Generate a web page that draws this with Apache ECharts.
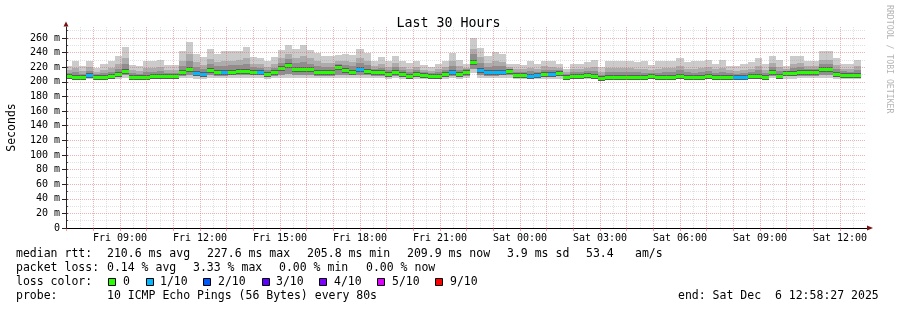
<!DOCTYPE html>
<html>
<head>
<meta charset="utf-8">
<script src="https://cdn.jsdelivr.net/npm/echarts@6/dist/echarts.min.js"></script>
<style>
  html, body { margin: 0; padding: 0; background: #fff; }
  #chart { width: 897px; height: 310px; }
</style>
</head>
<body>
<div id="chart"></div>
<script>
// 16 minute bins (12 x 80s), first bin starts Fri 06:56
const firstBin = "Fri 06:56";
const binMinutes = 16;
const viewStart = "Fri 06:58:27";
const viewEnd = "Sat 12:58:27";

const xTickLabels = ["Fri 09:00", "Fri 12:00", "Fri 15:00", "Fri 18:00", "Fri 21:00",
  "Sat 00:00", "Sat 03:00", "Sat 06:00", "Sat 09:00", "Sat 12:00"];
const yTickValues = [0, 20, 40, 60, 80, 100, 120, 140, 160, 180, 200, 220, 240, 260];

// smoke, ms
const pingMax = [
  222, 229, 222, 228, 219, 224.7, 229, 235, 247, 223,
  222, 229, 229, 230, 223, 223, 241.5, 254, 238, 234,
  245, 238, 241.5, 241.5, 241.5, 248, 234, 232, 228, 234,
  243, 250.7, 245, 249.7, 244, 240, 236, 236, 237, 238,
  237, 245, 240, 229, 234, 229, 236, 228, 225.6, 229,
  223, 220, 224.7, 229, 240, 230, 224.7, 260, 246, 236,
  240.7, 238, 224.7, 224.7, 223.5, 229, 224.7, 229, 229, 224.7,
  218, 224.7, 224.7, 226.5, 230, 220, 229, 228, 229, 229,
  226.5, 228, 223.3, 228, 229, 229, 233, 226.5, 228, 228,
  230, 225, 230, 222, 222, 224, 226.5, 233, 224.7, 235.6,
  230, 222, 235.6, 235.6, 229, 229, 241.5, 241.5, 232, 224.7,
  224, 230
];
const upperHigh = [
  215.5, 219, 215, 220, 213.5, 216.5, 219.5, 224, 232.5, 216,
  215, 219, 219.5, 220, 216, 216, 228.5, 238, 226.5, 223.5,
  231.5, 227, 229, 229, 229.5, 233, 225, 224, 220.5, 224.5,
  232, 238, 232.5, 235, 232, 228, 225.5, 226, 229, 228,
  226.5, 232.5, 229, 222, 224.5, 220.5, 226, 220, 217.5, 220.5,
  216.5, 214.5, 217, 220.5, 228, 221, 219.5, 245.5, 233.5, 225.5,
  228.5, 227, 220.5, 218, 217, 219.5, 217.5, 221, 220.5, 219,
  213, 217, 217, 219, 220, 213.5, 219, 218.5, 219, 218.5,
  217.5, 218, 216.5, 218, 218.5, 219, 222, 217.5, 218, 218.5,
  220, 217, 219, 215.5, 215, 216.5, 218, 222, 216.5, 225.5,
  220, 217.5, 225, 225.5, 222, 222, 230.5, 230.5, 222.5, 218,
  217.5, 221
];
const upperMid = [
  212, 213.5, 211, 215, 210.5, 212.5, 214, 218, 224.5, 212,
  211, 213.5, 214, 214.5, 212, 212, 221.5, 229, 220, 217.5,
  224.5, 221, 222, 222.5, 223, 224.5, 220, 219.5, 216, 219.5,
  226, 231, 226, 227, 225, 221, 220, 220.5, 225, 222.5,
  221, 225.5, 222.5, 218, 219.5, 216, 220.5, 216, 213.5, 216,
  213, 211.5, 213, 216, 221.5, 216.5, 217, 237.5, 225.5, 220,
  221.5, 221, 218, 214, 214, 214.5, 213.5, 216.5, 216, 216,
  210.5, 213, 213, 215, 214.5, 210, 213.5, 213.5, 213.5, 213,
  213, 212.5, 212.5, 212.5, 213, 213.5, 215.5, 213, 212.5, 213.5,
  214.5, 212.5, 213, 211.5, 211, 212, 213.5, 215.5, 211.5, 220,
  214.5, 215, 219, 220.5, 218, 218, 224.5, 224.5, 217.5, 214.5,
  214, 216.5
];
const median = [
  207.3, 207, 206, 209.6, 207, 207, 207.5, 211, 215, 207,
  206, 207, 207.5, 207.5, 207.5, 207.5, 213, 218, 212, 210.5,
  215.5, 213.7, 213.5, 214, 215, 214.5, 214, 214, 211, 213,
  219, 223, 217.5, 217, 217, 213, 213, 213.5, 219.6, 215.5,
  214, 217, 215, 213, 213, 210.5, 213.5, 210.5, 208, 210.5,
  209, 208, 208, 210.5, 213.5, 210.5, 213.5, 227.6, 216.5, 213,
  213.5, 214, 215, 209.6, 209.6, 208, 209, 211, 210.5, 212,
  207, 208, 208, 210, 208, 205.8, 207, 207, 207, 206,
  207, 206, 208, 206, 206, 207, 208, 207, 206, 207,
  208, 207, 206, 207, 206.5, 207, 208, 208, 206, 213,
  208, 212, 212, 213.7, 213.5, 213, 217, 217, 211, 210,
  210, 209.9
];
const lowerMid = [
  206, 205.5, 204.5, 207, 205.5, 205.5, 206, 208, 209, 205.5,
  204.5, 205.5, 206, 206, 206, 206, 208.5, 209, 208, 207.5,
  209, 208.5, 208.5, 209, 209, 209, 209, 209, 208, 208.5,
  210, 211, 209.5, 209.5, 209.5, 208.5, 208.5, 208.5, 210, 209,
  209, 209.5, 209, 208.5, 208.5, 207.5, 208.5, 207.5, 206.5, 207.5,
  207, 206.5, 206.5, 207.5, 208.5, 207.5, 208.5, 218, 209.5, 208.5,
  208.5, 209, 209, 207, 207, 206.5, 207, 208, 207.5, 208,
  205.5, 206.5, 206.5, 207, 206.5, 204.5, 205.5, 205.5, 205.5, 204.5,
  205.5, 204.5, 206.5, 204.5, 204.5, 205.5, 206.5, 205.5, 204.5, 205.5,
  206.5, 205.5, 204.5, 205.5, 205, 205.5, 206.5, 206.5, 204.5, 208.5,
  206.5, 208, 208, 208.5, 208.5, 208.5, 209.5, 209.5, 208, 207,
  207, 207.5
];
const pingMin = [
  204, 204, 203, 204.5, 204, 204, 204, 204.5, 205, 204,
  203, 204, 204, 204, 204, 204, 205, 205, 204.5, 204.5,
  205, 205, 205, 205, 205, 205, 205, 205, 204.5, 205,
  205, 205.5, 205, 205, 205, 205, 205, 205, 205, 205,
  205, 205, 205, 205, 205, 204.5, 205, 204.5, 204, 204.5,
  204.5, 204, 204, 204.5, 205, 204.5, 205, 212, 205, 205,
  205, 205, 205, 204.5, 204.5, 204, 204.5, 204.5, 204.5, 204.5,
  204, 204, 204, 204.5, 204, 203, 204, 204, 204, 203,
  204, 203, 204, 203, 203, 204, 204, 204, 203, 204,
  204, 204, 203, 204, 203.5, 204, 204, 204, 203, 205,
  204, 204.5, 204.5, 205, 205, 205, 205, 205, 204.5, 204.5,
  204.5, 204.5
];
// lost pings per bin, in tenths
const lossTenths = [
  0, 0, 0, 1, 0, 0, 0, 0, 0, 0,
  0, 0, 0, 0, 0, 0, 0, 0, 1, 1,
  0, 0, 1, 0, 0, 0, 0, 1, 0, 0,
  0, 0, 0, 0, 0, 0, 0, 0, 0, 0,
  0, 1, 0, 0, 0, 0, 0, 0, 0, 0,
  0, 0, 0, 0, 1, 0, 0, 0, 1, 1,
  1, 1, 0, 0, 0, 1, 1, 0, 1, 0,
  0, 0, 0, 0, 0, 0, 0, 0, 0, 0,
  0, 0, 0, 0, 0, 0, 0, 0, 0, 0,
  0, 0, 0, 0, 1, 1, 0, 0, 0, 0,
  0, 0, 0, 0, 0, 0, 0, 0, 0, 0,
  0, 0
];

const lossLevels = [0, 1, 2, 3, 4, 5, 9];
const lossLabels = ["0", "1/10", "2/10", "3/10", "4/10", "5/10", "9/10"];
const lossColors = ["#26ff00", "#00b8ff", "#0059ff", "#5e00ff", "#7e00ff", "#dd00ff", "#ff0000"];

const medianRtt = ["210.6 ms avg", "227.6 ms max", "205.8 ms min", "209.9 ms now", "3.9 ms sd"];
const amPerSec = "53.4";
const packetLoss = ["0.14 % avg", "3.33 % max", "0.00 % min", "0.00 % now"];
const probeText = "10 ICMP Echo Pings (56 Bytes) every 80s";
const endText = "end: Sat Dec  6 12:58:27 2025";

const FONT = "DejaVu Sans Mono";

// "Sat 03:00" -> minutes since Fri 00:00
function toMinutes(label) {
  const [day, clock] = label.split(" ");
  const parts = clock.split(":").map(Number);
  return (day === "Sat" ? 1440 : 0) + parts[0] * 60 + parts[1] + (parts[2] || 0) / 60;
}

const xMin = toMinutes(viewStart);
const xMax = toMinutes(viewEnd);
const firstBinMin = toMinutes(firstBin);
const xLabelValues = xTickLabels.map(toMinutes);

const hourTicks = [];
for (let m = 420; m < xMax; m += 60) hourTicks.push(m);
const halfHourTicks = [];
for (let m = 420; m < xMax; m += 30) halfHourTicks.push(m);
const yMinorTicks = [];
for (let v = 0; v <= 270; v += 10) yMinorTicks.push(v);

const bins = median.map((m, i) => [
  firstBinMin + i * binMinutes,
  pingMin[i], lowerMid[i], m, upperMid[i], upperHigh[i], pingMax[i], lossTenths[i]
]);

function lossColor(tenths) {
  let idx = 0;
  lossLevels.forEach((lv, i) => { if (tenths >= lv) idx = i; });
  return lossColors[idx];
}

function renderBin(params, api) {
  const start = api.value(0);
  const end = start + binMinutes;
  const cs = params.coordSys;

  const clip = (x0, y0, x1, y1) => {
    const l = Math.max(x0, cs.x), r = Math.min(x1, cs.x + cs.width);
    const t = Math.max(y0, cs.y), b = Math.min(y1, cs.y + cs.height);
    if (r <= l || b <= t) return null;
    return { x: l, y: t, width: r - l, height: b - t };
  };
  const band = (lo, hi, fill) => {
    const p0 = api.coord([start, hi]);
    const p1 = api.coord([end, lo]);
    const shape = clip(Math.round(p0[0]), Math.round(p0[1]), Math.round(p1[0]), Math.round(p1[1]));
    return shape && { type: "rect", shape, style: { fill } };
  };
  const strip = (value, half, fill) => {
    const p0 = api.coord([start, value]);
    const p1 = api.coord([end, value]);
    const yc = Math.round(p0[1]);
    const shape = clip(Math.round(p0[0]), yc - half, Math.round(p1[0]), yc + half + 1);
    return shape && { type: "rect", shape, style: { fill } };
  };

  const children = [
    band(api.value(1), api.value(6), "#cbcbcb"),
    band(api.value(2), api.value(5), "#acacac"),
    band(api.value(2), api.value(4), "#8e8e8e"),
    strip(api.value(3), 2, "#5c5c5c"),
    strip(api.value(3), 1, lossColor(api.value(7)))
  ].filter(Boolean);
  return { type: "group", children };
}

const minorLine = { color: "rgba(150,150,150,0.28)", width: 1, type: [1, 1] };
const majorLine = { color: "rgba(255,80,80,0.32)", width: 1, type: [1, 1] };

const textEl = (x, y, text, extra) => ({
  type: "text", x, y, silent: true,
  style: Object.assign({ text, fill: "#000", font: `11.5px "${FONT}"`, verticalAlign: "middle" }, extra || {})
});

const legendBoxX = [108, 146, 203, 262, 319, 377, 435];
const legendLabelX = [123, 160, 218, 276, 334, 392, 450];
const medianX = [107, 207, 307, 407, 507];
const lossX = [107, 193, 279, 366];

const graphics = [
  textEl(16, 254, "median rtt:"),
  ...medianRtt.map((t, i) => textEl(medianX[i], 254, t)),
  textEl(586, 254, amPerSec),
  textEl(635, 254, "am/s"),
  textEl(16, 268, "packet loss:"),
  ...packetLoss.map((t, i) => textEl(lossX[i], 268, t)),
  textEl(16, 282, "loss color:"),
  ...lossLabels.map((t, i) => textEl(legendLabelX[i], 282, t)),
  ...lossColors.map((c, i) => ({
    type: "rect", silent: true,
    shape: { x: legendBoxX[i] + 0.5, y: 278.5, width: 7, height: 7 },
    style: { fill: c, stroke: "#000", lineWidth: 1 }
  })),
  textEl(16, 296, "probe:"),
  textEl(107, 296, probeText),
  textEl(678, 296, endText),
  {
    type: "text", x: 889, y: 5, rotation: -Math.PI / 2, silent: true,
    style: { text: "RRDTOOL / TOBI OETIKER", fill: "#b4b4b4", font: `8.2px "${FONT}"`,
      align: "left", verticalAlign: "middle" }
  },
  // axis arrows
  { type: "polygon", silent: true, z: 10,
    shape: { points: [[63.5, 26.5], [68.5, 26.5], [66, 21.5]] }, style: { fill: "#7a1212" } },
  { type: "polygon", silent: true, z: 10,
    shape: { points: [[867, 225.5], [867, 230.5], [873, 228]] }, style: { fill: "#7a1212" } },
  { type: "line", silent: true, z: 10,
    shape: { x1: 866, y1: 228.5, x2: 867, y2: 228.5 }, style: { stroke: "#000", lineWidth: 1 } }
];

const chart = echarts.init(document.getElementById("chart"), null, { renderer: "canvas" });

const option = {
  animation: false,
  backgroundColor: "#fff",
  title: {
    text: "Last 30 Hours",
    left: "center",
    top: 12,
    textStyle: { fontFamily: FONT, fontSize: 13.3, fontWeight: "normal", color: "#000" }
  },
  grid: { left: 66, top: 27, width: 800, height: 201, outerBoundsMode: "none", containLabel: false },
  xAxis: [
    {
      type: "value", min: xMin, max: xMax, position: "bottom", z: 5,
      axisLine: { show: true, onZero: false, lineStyle: { color: "#000", width: 1 } },
      axisTick: { show: true, customValues: hourTicks, length: 3, lineStyle: { color: "rgba(255,60,60,0.5)" } },
      axisLabel: {
        customValues: xLabelValues,
        formatter: (v) => {
          const i = xLabelValues.findIndex((x) => Math.abs(x - v) < 0.01);
          return i >= 0 ? xTickLabels[i] : "";
        },
        fontFamily: FONT, fontSize: 10, color: "#000", margin: 5
      },
      splitLine: { show: true, lineStyle: majorLine }
    },
    {
      type: "value", min: xMin, max: xMax, position: "bottom", z: 4,
      axisLine: { show: false },
      axisTick: { show: false, customValues: halfHourTicks },
      axisLabel: { show: false },
      splitLine: { show: true, lineStyle: minorLine }
    }
  ],
  yAxis: [
    {
      type: "value", min: 0, max: 275, position: "left", z: 5,
      name: "Seconds", nameLocation: "middle", nameRotate: 90, nameGap: 48,
      nameTextStyle: { fontFamily: FONT, fontSize: 11.5, color: "#000" },
      axisLine: { show: true, lineStyle: { color: "#2a2222", width: 1 } },
      axisTick: { show: true, customValues: yTickValues, length: 4, lineStyle: { color: "#2a2222" } },
      axisLabel: {
        customValues: yTickValues,
        formatter: (v) => (v === 0 ? "0" : v + " m"),
        fontFamily: FONT, fontSize: 10, color: "#000", margin: 6
      },
      splitLine: { show: true, lineStyle: majorLine }
    },
    {
      type: "value", min: 0, max: 275, position: "left", z: 4,
      axisLine: { show: false },
      axisTick: { show: true, inside: true, customValues: yMinorTicks, length: 2, lineStyle: { color: "#555" } },
      axisLabel: { show: false },
      splitLine: { show: true, lineStyle: minorLine }
    }
  ],
  series: [
    {
      type: "custom",
      name: "smoke",
      xAxisIndex: 0,
      yAxisIndex: 0,
      z: 2,
      silent: true,
      clip: true,
      renderItem: renderBin,
      encode: { x: 0, y: 3 },
      data: bins
    }
  ],
  graphic: graphics
};

chart.setOption(option);
</script>
</body>
</html>
